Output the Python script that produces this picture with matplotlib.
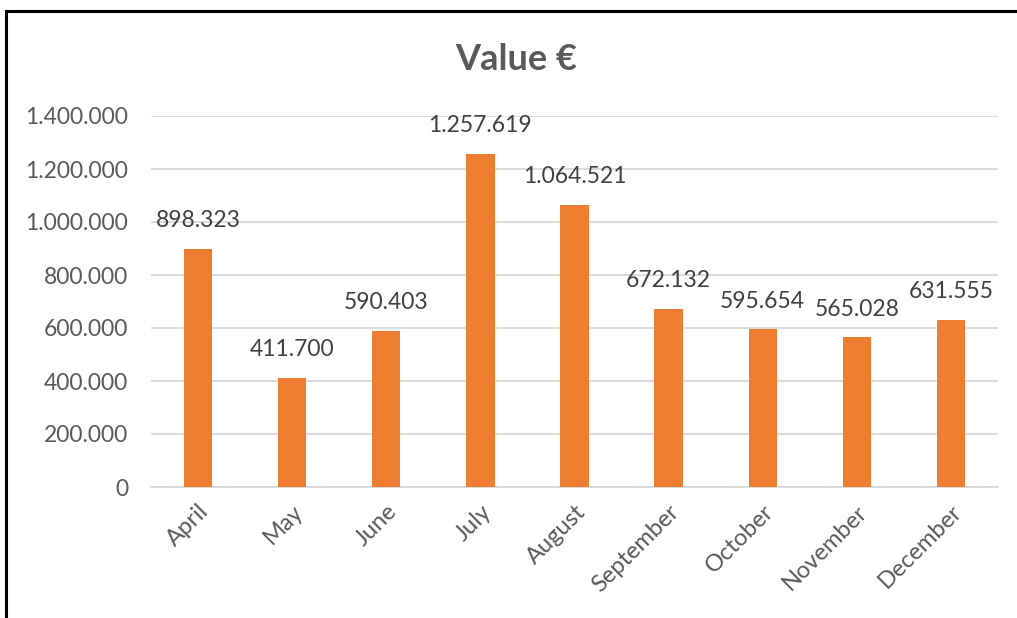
import matplotlib
matplotlib.use("Agg")
import matplotlib.pyplot as plt
from matplotlib.patches import Rectangle
from matplotlib.ticker import FuncFormatter

months = ["April", "May", "June", "July", "August", "September", "October", "November", "December"]
values = [898323, 411700, 590403, 1257619, 1064521, 672132, 595654, 565028, 631555]
yticks = [0, 200000, 400000, 600000, 800000, 1000000, 1200000, 1400000]

plt.rcParams['font.family'] = ['Lato', 'DejaVu Sans']

def fmt(v):
    return f"{int(v):,}".replace(",", ".")

fig = plt.figure(figsize=(10.17, 6.18), dpi=100)
fig.patch.set_facecolor("white")
ax = fig.add_axes([151/1017, 1-487/618, (998-151)/1017, (487-116)/618])

x = list(range(len(months)))
ax.bar(x, values, width=0.3, color="#ED7D31", zorder=3)
ax.set_xlim(-0.5, len(months)-0.5)
ax.set_ylim(0, 1400000)
ax.set_yticks(yticks)
ax.yaxis.set_major_formatter(FuncFormatter(lambda v, p: fmt(v)))
ax.grid(axis="y", color="#D9D9D9", linewidth=1.3, zorder=0)
for s in ["top", "right", "left"]:
    ax.spines[s].set_visible(False)
ax.spines["bottom"].set_color("#D9D9D9")
ax.spines["bottom"].set_linewidth(1.3)
ax.tick_params(axis="both", length=0, colors="#595959", labelsize=16.5)
ax.tick_params(axis="y", pad=16.5)
ax.set_xticks(x)
ax.set_xticklabels(months, rotation=45, ha="right", rotation_mode="anchor", fontsize=17)
ax.tick_params(axis="x", pad=10)

for xi, v in zip(x, values):
    ax.annotate(fmt(v), (xi, v), xytext=(0, 28), textcoords="offset pixels",
                ha="center", va="center", fontsize=16.5, color="#404040", zorder=4)

fig.text(516/1017, 1-59/618, "Value €", ha="center", va="center", fontsize=26,
         fontweight="bold", color="#595959")

fig.patches.append(Rectangle((6/1017, -0.1), 1.2, 1-11/618+0.1, transform=fig.transFigure,
                             fill=False, edgecolor="black", linewidth=2.2))

fig.savefig("out.png", dpi=100)
